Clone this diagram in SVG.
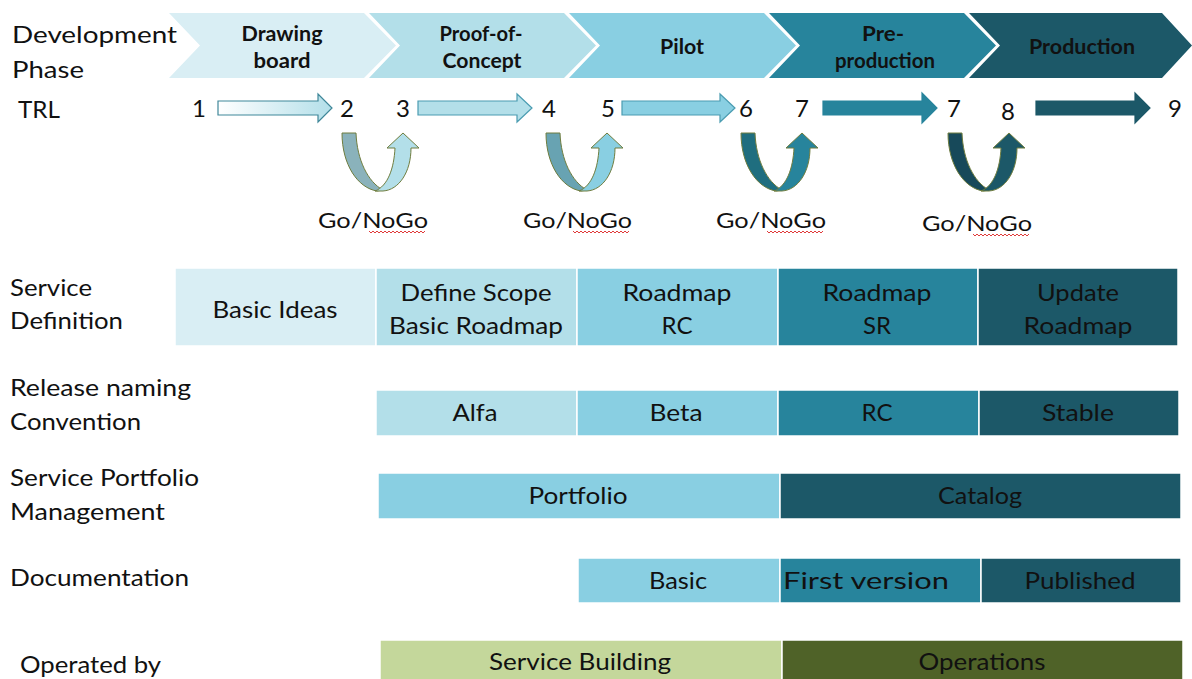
<svg xmlns="http://www.w3.org/2000/svg" width="1192" height="679" viewBox="0 0 1192 679">
<style>
text{font-family:Lato,"Liberation Sans",sans-serif;fill:#111;}
.lab{font-size:23px;}
.ph{font-size:20px;font-weight:bold;text-anchor:middle;}
.num{font-size:24px;text-anchor:middle;}
.box{font-size:24px;text-anchor:middle;}
.gng{font-size:22px;}
.c1{fill:#d9eef4;} .c2{fill:#b3dfe9;} .c3{fill:#89cfe2;} .c4{fill:#27849c;} .c5{fill:#1c5868;}
.g1{fill:#c4d79b;} .g2{fill:#4f6228;}
.cell{stroke:#fff;stroke-width:1.5;}
.uo{stroke:#6f7d3f;stroke-width:1;}
.sq{fill:none;stroke:#e03a3a;stroke-width:1;}
</style>
<defs>
<linearGradient id="gr1" x1="0" y1="0" x2="1" y2="0">
<stop offset="0" stop-color="#ffffff"/>
<stop offset="1" stop-color="#b3dfe9"/>
</linearGradient>
<path id="uL" d="M0,133 L14,133 C15,160 26,182 41,190 L35,191 C16,188 0,165 0,133 Z"/>
<path id="uR" d="M33,191 C46,186 52,168 53,148 L45,148 L61,133 L77,148 L69,148 C69,172 57,190 41,191 Z"/>
<path id="sqz" d="M0,0 l2,2 l2,-2 l2,2 l2,-2 l2,2 l2,-2 l2,2 l2,-2 l2,2 l2,-2 l2,2 l2,-2 l2,2 l2,-2 l2,2 l2,-2 l2,2 l2,-2 l2,2 l2,-2 l2,2 l2,-2 l2,2 l2,-2 l2,2 l2,-2 l2,2 l2,-2"/>
</defs>

<g id="row-labels">
<text class="lab" x="12" y="43" textLength="165" lengthAdjust="spacingAndGlyphs">Development</text>
<text class="lab" x="12" y="78" textLength="72" lengthAdjust="spacingAndGlyphs">Phase</text>
<text class="lab" x="18" y="118" textLength="42" lengthAdjust="spacingAndGlyphs">TRL</text>
<text class="lab" x="10" y="296" textLength="82" lengthAdjust="spacingAndGlyphs">Service</text>
<text class="lab" x="10" y="329" textLength="113" lengthAdjust="spacingAndGlyphs">Definition</text>
<text class="lab" x="10" y="396" textLength="181" lengthAdjust="spacingAndGlyphs">Release naming</text>
<text class="lab" x="10" y="430" textLength="131" lengthAdjust="spacingAndGlyphs">Convention</text>
<text class="lab" x="10" y="486" textLength="189" lengthAdjust="spacingAndGlyphs">Service Portfolio</text>
<text class="lab" x="10" y="520" textLength="155" lengthAdjust="spacingAndGlyphs">Management</text>
<text class="lab" x="10" y="586" textLength="179" lengthAdjust="spacingAndGlyphs">Documentation</text>
<text class="lab" x="20" y="673" textLength="141" lengthAdjust="spacingAndGlyphs">Operated by</text>
</g>

<g id="phase-drawing-board">
<polygon class="c1" points="169,13 364,13 396,45.5 364,78 169,78 200,45.5"/>
<text class="ph" x="282" y="41" textLength="81" lengthAdjust="spacingAndGlyphs">Drawing</text>
<text class="ph" x="282" y="68" textLength="57" lengthAdjust="spacingAndGlyphs">board</text>
</g>
<g id="phase-poc">
<polygon class="c2" points="369,13 564,13 596,45.5 564,78 369,78 400,45.5"/>
<text class="ph" x="481" y="41" textLength="83" lengthAdjust="spacingAndGlyphs">Proof-of-</text>
<text class="ph" x="482" y="68" textLength="79" lengthAdjust="spacingAndGlyphs">Concept</text>
</g>
<g id="phase-pilot">
<polygon class="c3" points="569,13 764,13 796,45.5 764,78 569,78 600,45.5"/>
<text class="ph" x="682" y="54" textLength="44" lengthAdjust="spacingAndGlyphs">Pilot</text>
</g>
<g id="phase-preproduction">
<polygon class="c4" points="769,13 964,13 996,45.5 964,78 769,78 800,45.5"/>
<text class="ph" x="883" y="41" textLength="42" lengthAdjust="spacingAndGlyphs">Pre-</text>
<text class="ph" x="885" y="68" textLength="100" lengthAdjust="spacingAndGlyphs">production</text>
</g>
<g id="phase-production">
<polygon class="c5" points="969,13 1162,13 1192,45.5 1162,78 969,78 1000,45.5"/>
<text class="ph" x="1082" y="54" textLength="106" lengthAdjust="spacingAndGlyphs">Production</text>
</g>

<g id="trl-numbers">
<text class="num" x="199" y="117">1</text>
<text class="num" x="347" y="117">2</text>
<text class="num" x="403" y="117">3</text>
<text class="num" x="549" y="117">4</text>
<text class="num" x="608" y="117">5</text>
<text class="num" x="746" y="117">6</text>
<text class="num" x="802" y="117">7</text>
<text class="num" x="954" y="117">7</text>
<text class="num" x="1008" y="120">8</text>
<text class="num" x="1175" y="117">9</text>
</g>

<g id="connectors">
<polygon fill="url(#gr1)" stroke="#3f8799" stroke-width="1.2" points="218,101 318,101 318,94 332,108 318,122 318,115 218,115"/>
<polygon class="c2" stroke="#4a9cb1" stroke-width="1.2" points="418,101 517,101 517,94 532,108 517,122 517,115 418,115"/>
<polygon class="c3" stroke="#4a9cb1" stroke-width="1.2" points="622,101 720,101 720,94 735,108 720,122 720,115 622,115"/>
<polygon class="c4" stroke="#27849c" stroke-width="1.2" points="823,101 922,101 922,93 937,108 922,123 922,115 823,115"/>
<polygon class="c5" stroke="#1c5868" stroke-width="1.2" points="1036,101 1135,101 1135,93 1150,108 1135,123 1135,115 1036,115"/>

<g transform="translate(342,0)"><use href="#uL" class="uo" fill="#8ab2bb"/><use href="#uR" class="uo" fill="#b3dfe9"/></g>
<g transform="translate(546,0)"><use href="#uL" class="uo" fill="#68a3b2"/><use href="#uR" class="uo" fill="#89cfe2"/></g>
<g transform="translate(741,0)"><use href="#uL" class="uo" fill="#1f6e7f"/><use href="#uR" class="uo" fill="#27849c"/></g>
<g transform="translate(948,0)"><use href="#uL" class="uo" fill="#17495a"/><use href="#uR" class="uo" fill="#1c5868"/></g>
</g>

<g id="gonogo-labels">
<text class="gng" x="318" y="228" textLength="110" lengthAdjust="spacingAndGlyphs">Go/NoGo</text>
<use href="#sqz" class="sq" x="369" y="231"/>
<text class="gng" x="523" y="228" textLength="109" lengthAdjust="spacingAndGlyphs">Go/NoGo</text>
<use href="#sqz" class="sq" x="573" y="231"/>
<text class="gng" x="716" y="228" textLength="110" lengthAdjust="spacingAndGlyphs">Go/NoGo</text>
<use href="#sqz" class="sq" x="767" y="231"/>
<text class="gng" x="922" y="231" textLength="110" lengthAdjust="spacingAndGlyphs">Go/NoGo</text>
<use href="#sqz" class="sq" x="973" y="234"/>
</g>

<g id="service-definition">
<rect class="cell c1" x="175" y="268" width="201" height="78"/>
<text class="box" x="275" y="318" textLength="125" lengthAdjust="spacingAndGlyphs">Basic Ideas</text>
<rect class="cell c2" x="376" y="268" width="201" height="78"/>
<text class="box" x="476" y="301" textLength="151" lengthAdjust="spacingAndGlyphs">Define Scope</text>
<text class="box" x="476" y="334" textLength="174" lengthAdjust="spacingAndGlyphs">Basic Roadmap</text>
<rect class="cell c3" x="577" y="268" width="201" height="78"/>
<text class="box" x="677" y="301" textLength="109" lengthAdjust="spacingAndGlyphs">Roadmap</text>
<text class="box" x="677" y="334" textLength="31" lengthAdjust="spacingAndGlyphs">RC</text>
<rect class="cell c4" x="778" y="268" width="200" height="78"/>
<text class="box" x="877" y="301" textLength="109" lengthAdjust="spacingAndGlyphs">Roadmap</text>
<text class="box" x="877" y="334" textLength="28" lengthAdjust="spacingAndGlyphs">SR</text>
<rect class="cell c5" x="978" y="268" width="200" height="78"/>
<text class="box" x="1078" y="301" textLength="82" lengthAdjust="spacingAndGlyphs">Update</text>
<text class="box" x="1078" y="334" textLength="109" lengthAdjust="spacingAndGlyphs">Roadmap</text>
</g>

<g id="release-naming">
<rect class="cell c2" x="376" y="390" width="201" height="46"/>
<text class="box" x="475" y="421" textLength="45" lengthAdjust="spacingAndGlyphs">Alfa</text>
<rect class="cell c3" x="577" y="390" width="201" height="46"/>
<text class="box" x="676" y="421" textLength="53" lengthAdjust="spacingAndGlyphs">Beta</text>
<rect class="cell c4" x="778" y="390" width="201" height="46"/>
<text class="box" x="877" y="421" textLength="31" lengthAdjust="spacingAndGlyphs">RC</text>
<rect class="cell c5" x="979" y="390" width="200" height="46"/>
<text class="box" x="1078" y="421" textLength="72" lengthAdjust="spacingAndGlyphs">Stable</text>
</g>

<g id="portfolio">
<rect class="cell c3" x="378" y="473" width="402" height="46"/>
<text class="box" x="578" y="504" textLength="99" lengthAdjust="spacingAndGlyphs">Portfolio</text>
<rect class="cell c5" x="780" y="473" width="401" height="46"/>
<text class="box" x="980" y="504" textLength="84" lengthAdjust="spacingAndGlyphs">Catalog</text>
</g>

<g id="documentation">
<rect class="cell c3" x="578" y="558" width="202" height="45"/>
<text class="box" x="678" y="589" textLength="58" lengthAdjust="spacingAndGlyphs">Basic</text>
<rect class="cell c4" x="780" y="558" width="201" height="45"/>
<text class="box" x="866" y="589" textLength="166" lengthAdjust="spacingAndGlyphs">First version</text>
<rect class="cell c5" x="981" y="558" width="200" height="45"/>
<text class="box" x="1080" y="589" textLength="111" lengthAdjust="spacingAndGlyphs">Published</text>
</g>

<g id="operated-by">
<rect class="cell g1" x="380" y="640" width="402" height="42"/>
<text class="box" x="580" y="670" textLength="182" lengthAdjust="spacingAndGlyphs">Service Building</text>
<rect class="cell g2" x="782" y="640" width="401" height="42"/>
<text class="box" x="982" y="670" textLength="127" lengthAdjust="spacingAndGlyphs">Operations</text>
</g>
</svg>
